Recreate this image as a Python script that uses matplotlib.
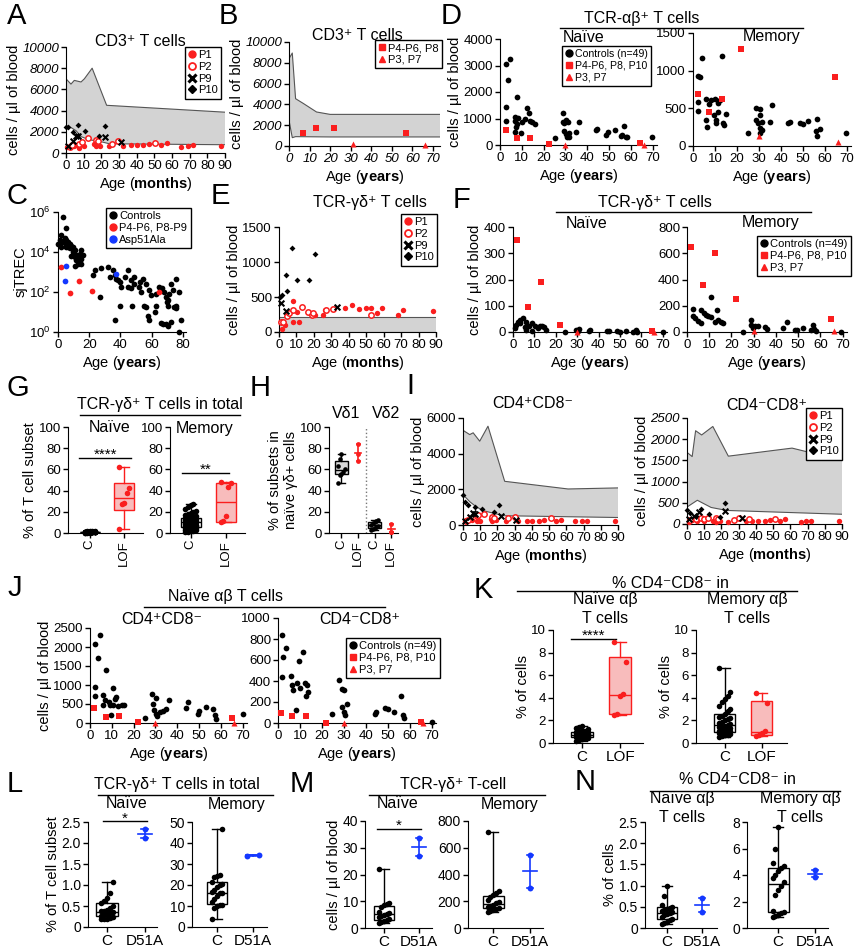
import matplotlib.pyplot as plt
import numpy as np
from matplotlib.lines import Line2D
from matplotlib.ticker import NullLocator

plt.rcParams['font.family'] = ['Liberation Sans', 'DejaVu Sans']
plt.rcParams['mathtext.fontset'] = 'custom'
plt.rcParams['mathtext.rm'] = 'Liberation Sans'
plt.rcParams['mathtext.it'] = 'Liberation Sans:italic'
plt.rcParams['mathtext.bf'] = 'Liberation Sans:bold'

RED = '#fa1e1e'
BLUE = '#1438ff'
PINK = '#f8bcbc'
BAND = '#d3d3d3'
EDGE = '#555555'

# ---------------- data ----------------
# A: CD3+ T cells (months)
A_up_x = [0, 2.8, 4.7, 8.5, 10.4, 14.8, 23, 90]
A_up_y = [7000, 6500, 6850, 6700, 7000, 8000, 4500, 3850]
A_lo_x = [0, 2.8, 5.7, 8.5, 13, 19, 24.6, 90]
A_lo_y = [2500, 2400, 2100, 1550, 1250, 1100, 870, 780]
A_P1_x = [0.6, 2.3, 4.7, 6, 7.6, 10.4, 16, 16.7, 19, 24.6, 32, 37, 40, 43.6, 47, 54, 57, 65, 69, 72, 88]
A_P1_y = [560, 620, 620, 720, 470, 620, 870, 620, 690, 620, 620, 720, 780, 780, 850, 720, 940, 560, 690, 720, 690]
A_P2_x = [2.5, 3.4, 7.6, 9.1, 12.3, 17, 18, 26, 29.7, 50.6]
A_P2_y = [560, 720, 870, 1030, 1400, 1190, 1090, 870, 1090, 940]
A_P9_x = [1, 3.8, 5.7, 7, 22.3, 31]
A_P9_y = [620, 1090, 1620, 1560, 1500, 1000]
A_P10_x = [0, 1, 3.8, 6.6, 11, 18.6, 21.8]
A_P10_y = [2440, 2440, 1970, 2600, 2120, 1560, 2560]

# B: CD3+ T cells (years)
B_up_x = [0, 1.6, 3.2, 6.9, 13.4, 20, 73.5]
B_up_y = [8400, 8940, 4550, 4100, 3270, 3040, 3040]
B_lo_x = [0, 1.6, 3.2, 20, 73.5]
B_lo_y = [2470, 800, 900, 870, 870]
B_sq_x = [7, 13, 22, 57]
B_sq_y = [1250, 1760, 1730, 1250]
B_tri_x = [31, 66]
B_tri_y = [160, 60]

# C: sjTREC
C_ctrl_x = [3.2, 5.3, 2.1, 4.3, 0, 1.1, 2.1, 3.2, 4.3, 5.3, 6.4, 7.5, 8.5, 9.6, 5.3, 2.1, 6.4, 7.5, 9.6,
            10.7, 11.7, 12.8, 13.9, 14.9, 13.9, 11.7, 10.7, 12.8, 10.7, 8.5, 14.9, 16, 14.9,
            22.4, 23.5, 27.7, 32, 35.2, 36.2, 37.3, 38.4, 39.5, 40.5, 44.8, 42.7, 46.9, 49, 44.8, 46.9,
            49, 52.3, 54.4, 51.9, 53.3, 56.5, 58.6, 59.7, 62.9, 65, 66.7, 68.2, 69.3, 70.4, 71.4, 72.5,
            73.6, 75.7, 77.2, 26.7, 33, 36.2, 40, 47.6, 55.4, 56.5, 57.6, 58.6, 62.5, 62.3, 66, 67, 69.3,
            70.4, 69.6, 70.4, 72.5, 74.6, 75.7, 75.3, 77.8, 78.9]
C_ctrl_y = [5.6e5, 1.6e5, 6.8e4, 5.2e4, 2.6e4, 3.8e4, 3.2e4, 3.5e4, 2.8e4, 3.8e4, 3.2e4, 2.6e4, 2.1e4,
            1.8e4, 1.8e4, 1.8e4, 1.8e4, 1.5e4, 1.0e4, 1.2e4, 6.8e3, 5.6e3, 8.3e3, 1.2e4, 4.7e3, 3.8e3,
            2.1e3, 2.6e3, 5.6e3, 6.0e3, 4.7e3, 6.8e3, 2.6e3,
            680, 1200, 1500, 1800, 1200, 680, 470, 380, 320, 180, 1200, 560, 380, 560, 180, 150,
            260, 320, 470, 180, 100, 260, 120, 68, 83, 180, 150, 100, 56, 38, 83, 260,
            120, 470, 100, 56, 560, 3.8, 20, 20, 20, 18, 6.3, 3.8, 20, 10, 2.8, 2.6, 2.4,
            2.0, 32, 20, 3.2, 18, 20, 15, 1.0, 3.8]
C_red_x = [2.1, 7.5, 13.2, 22, 64.6]
C_red_y = [1800, 89, 350, 107, 100]
C_blue_x = [4.9, 4.3, 36.9]
C_blue_y = [2100, 350, 830]

# D: TCR-ab naive / memory (years)
DN_ctrl_x = [2.7, 4.5, 3.8, 7.6, 2.7, 2.7, 6.8, 6.8, 7.6, 7.3, 8.3, 9.8, 6.8, 11.4, 12.4, 13.3, 13.9,
             14.8, 15.9, 10.3, 25, 28.8, 28.8, 29.5, 30.3, 31, 29.5, 30.3, 30.6, 31.8, 31.8, 34.8, 36,
             43.9, 44.7, 48.8, 49.7, 52.7, 56, 56.8, 57.6, 58.3, 55.3, 69.7]
DN_ctrl_y = [3070, 3250, 2440, 1830, 1430, 920, 1070, 920, 790, 670, 1010, 440, 500, 970, 1390, 1220,
             920, 850, 790, 880, 250, 1200, 880, 820, 950, 880, 530, 400, 290, 290, 440, 500, 850,
             570, 590, 380, 480, 570, 380, 720, 320, 290, 340, 290]
DN_sq_x = [2.7, 7.6, 13.6, 22.4, 64.4]
DN_sq_y = [570, 250, 250, 30, 90]
DN_tri_x = [30, 66]
DN_tri_y = [0, 0]
DM_ctrl_x = [4.1, 13.2, 2.3, 3.3, 2.3, 2.3, 6.1, 7.2, 8.4, 10.2, 11.4, 12.2, 9.4, 10.4, 10.4, 11.6,
             13.7, 14, 15.2, 6.1, 6.4, 25, 28.9, 30.4, 30.4, 28.9, 29.7, 30.4, 30.7, 31.6, 31.5, 35,
             35.8, 43.4, 44.1, 48.7, 50, 52.5, 56.6, 55.9, 56.6, 57.8, 69.7]
DM_ctrl_y = [1166, 1200, 930, 920, 590, 460, 630, 556, 610, 620, 565, 610, 410, 350, 310, 455, 300,
             275, 420, 350, 255, 175, 500, 485, 410, 343, 300, 245, 175, 218, 320, 320, 550, 300,
             320, 307, 290, 334, 365, 200, 133, 230, 175]
DM_sq_x = [2.3, 7.2, 13.2, 22, 64.7]
DM_sq_y = [685, 455, 630, 1285, 910]
DM_tri_x = [30, 66]
DM_tri_y = [130, 55]

# E: TCR-gd (months)
E_up_x = [0, 90]
E_up_y = [210, 210]
E_lo_x = [0, 90]
E_lo_y = [0, 0]
E_P1_x = [2, 3.3, 4.3, 7.8, 8.1, 10.4, 11.4, 20.7, 25.5, 26.5, 38, 42, 45.8, 49.7, 52.6, 56, 59, 68, 71, 88]
E_P1_y = [42, 103, 245, 142, 443, 292, 150, 245, 245, 316, 340, 387, 330, 340, 340, 269, 340, 245, 316, 300]
E_P2_x = [1, 2.3, 4.6, 5.6, 7.8, 13, 16.8, 18.8, 19.4, 27, 31, 53]
E_P2_y = [143, 150, 231, 269, 316, 363, 292, 245, 269, 316, 326, 245]
E_P9_x = [1, 4, 33]
E_P9_y = [420, 300, 355]
E_P10_x = [0.5, 1.5, 4, 4.6, 7.2, 10.4, 17.4, 20.7]
E_P10_y = [500, 530, 810, 580, 1200, 740, 740, 1120]

# F: TCR-gd naive / memory (years)
FN_ctrl_x = [0.9, 1.6, 2.3, 3.4, 4.7, 3.1, 5.9, 5.4, 7.4, 9, 10.5, 11.6, 12.4, 13.6, 14.7, 9, 6.2,
             15.5, 24.4, 29.5, 31, 30.3, 35.4, 36, 43.8, 44.7, 48.4, 50, 52.8, 55.9, 57.4, 58.2, 69.9]
FN_ctrl_y = [15, 28, 37, 45, 53, 34, 40, 19, 24, 34, 21, 15, 24, 21, 19, 3, 6, 9, 0, 6, 11, 3, 3, 6,
             5, 3, 3, 0, 3, 0, 6, 0, 0]
FN_sq_x = [2, 7, 13, 22, 65]
FN_sq_y = [350, 95, 192, 28, 3]
FN_tri_x = [30, 66]
FN_tri_y = [0, 0]
FM_ctrl_x = [2.5, 2.5, 3.5, 5, 6.5, 6.5, 7.6, 8.5, 9.6, 11, 12.5, 13.3, 14, 15.5, 16, 11, 25.2, 29,
             29, 29.7, 30.5, 32, 35, 35.8, 43.3, 44.8, 48.5, 49.3, 52.3, 56, 56.8, 57, 58, 69.5]
FM_ctrl_y = [175, 122, 105, 87, 67, 167, 142, 130, 122, 112, 80, 167, 92, 80, 67, 265, 0, 92, 55,
             30, 42, 47, 37, 22, 30, 80, 12, 17, 30, 12, 55, 22, 5, 0]
FM_sq_x = [2, 7, 12.5, 22, 65]
FM_sq_y = [645, 355, 605, 255, 100]
FM_tri_x = [30, 66]
FM_tri_y = [10, 5]

# G / H: box data
G_NAIVE_C = [0.2, 0.3, 0.4, 0.5, 0.5, 0.6, 0.6, 0.7, 0.7, 0.8, 0.8, 0.9, 0.9, 1.0, 1.0, 1.1, 1.1, 1.2,
             1.2, 1.3, 1.4, 1.5, 1.6, 1.8, 2.0, 0.4, 0.6, 0.8, 1.0, 0.9, 0.7, 1.1, 1.3, 0.5, 0.6, 0.8,
             1.2, 1.0, 0.9, 0.7]
G_NAIVE_LOF = [4, 27, 28, 38, 42, 62]
G_MEM_C = [0.5, 1, 1.5, 2, 2.5, 3, 3.5, 4, 4.5, 5, 5, 5.5, 6, 6, 6.5, 7, 7, 7.5, 8, 8, 8.5, 9, 9, 9.5,
           10, 10, 10.5, 11, 11, 11.5, 12, 12.5, 13, 13, 13.5, 14, 14, 15, 15.5, 16, 17, 18, 19, 20,
           21, 23, 25, 26, 27]
G_MEM_LOF = [10, 11, 16, 43, 47, 48]
H_VD1_C = [47, 55, 56, 58, 60, 63, 70, 75]
H_VD1_LOF = [68, 75, 84]
H_VD2_C = [3, 4, 5, 6, 7, 8, 9, 10, 11, 12]
H_VD2_LOF = [0.5, 1, 8.5]

# I: CD4+CD8- / CD4-CD8+ (months)
IL_up_x = [0, 3.9, 5.9, 9.7, 14.5, 24.2, 61, 90]
IL_up_y = [5310, 5070, 5170, 4700, 5540, 2450, 2020, 2080]
IL_lo_x = [0, 4, 8, 12, 18, 24, 90]
IL_lo_y = [1700, 1300, 1000, 800, 650, 520, 420]
IL_P1_x = [1, 2, 5, 8, 10, 16, 17, 19, 25, 32, 37, 40, 44, 47, 54, 57, 65, 69, 72, 88]
IL_P1_y = [200, 300, 300, 250, 200, 350, 250, 300, 200, 200, 250, 250, 250, 300, 250, 300, 200, 250, 250, 250]
IL_P2_x = [2, 3, 8, 9, 12, 17, 18, 26, 30, 51]
IL_P2_y = [250, 300, 500, 550, 600, 450, 400, 400, 450, 400]
IL_P9_x = [1, 4, 6, 7, 22, 31]
IL_P9_y = [250, 450, 700, 600, 500, 300]
IL_P10_x = [0, 1, 3, 7, 11, 18, 21]
IL_P10_y = [1700, 1300, 1100, 1000, 900, 750, 1100]
IR_up_x = [0, 3, 5, 8.5, 15, 24, 61, 90]
IR_up_y = [1690, 1590, 2200, 2100, 2300, 1600, 1790, 1500]
IR_lo_x = [0, 6, 14, 23, 90]
IR_lo_y = [400, 560, 390, 320, 230]
IR_P1_x = [1, 3, 6, 10, 15, 17, 19, 24, 34, 38, 41, 45, 48, 54, 57, 66, 69, 72, 88]
IR_P1_y = [50, 100, 80, 60, 70, 50, 70, 40, 60, 60, 60, 60, 100, 60, 110, 40, 60, 60, 80]
IR_P2_x = [2, 5, 8, 10, 12, 17, 18, 27, 30, 36, 51]
IR_P2_y = [100, 120, 140, 120, 130, 140, 120, 100, 140, 120, 110]
IR_P9_x = [1, 4, 7, 22, 32]
IR_P9_y = [110, 200, 280, 300, 130]
IR_P10_x = [0, 2, 5, 8, 13, 19, 22]
IR_P10_y = [320, 250, 200, 360, 230, 160, 500]

# J: naive ab CD4+CD8- / CD4-CD8+ (years)
JL_ctrl_x = [4.6, 2.4, 3.5, 7.4, 2.4, 10.4, 2.4, 6, 7, 12, 11.5, 8.5, 28.6, 30.3, 36, 45, 6.1, 9.1,
             10.7, 12.9, 14.5, 15.5, 9.6, 25.1, 28.9, 29.2, 30.1, 30.9, 31.9, 33.5, 35, 44.2, 49.5,
             50.2, 53.3, 56.3, 57.5, 57.8, 70]
JL_ctrl_y = [2320, 2090, 1720, 1400, 960, 930, 710, 725, 610, 690, 630, 560, 770, 670, 610, 550, 485,
             463, 478, 442, 478, 463, 213, 142, 500, 342, 249, 178, 285, 320, 357, 392, 249, 320,
             428, 357, 213, 107, 249]
JL_sq_x = [2, 7.3, 13.2, 22, 65]
JL_sq_y = [392, 170, 178, 14, 128]
JL_tri_x = [30, 66]
JL_tri_y = [0, 0]
JR_ctrl_x = [1.7, 3.7, 2.5, 1.7, 5.8, 6.6, 8.6, 7, 9.6, 11.6, 10, 12.5, 13.3, 13.6, 12.8, 28, 29, 30,
             56, 8.4, 24.6, 29.2, 30, 30.7, 31.5, 44.5, 44, 48.8, 50, 53, 56.8, 57.6, 70]
JR_ctrl_y = [840, 717, 625, 440, 446, 363, 378, 317, 594, 680, 332, 378, 363, 292, 255, 409, 323,
             317, 255, 123, 86, 154, 108, 77, 185, 108, 83, 139, 129, 108, 77, 46, 6]
JR_sq_x = [1.5, 6.6, 12.8, 22, 65]
JR_sq_y = [98, 68, 62, 0, 6]
JR_tri_x = [30, 66]
JR_tri_y = [0, 0]

# K: % CD4-CD8- in naive / memory ab T cells
K_NAIVE_C = [0.2, 0.3, 0.35, 0.4, 0.45, 0.5, 0.5, 0.55, 0.6, 0.6, 0.65, 0.65, 0.7, 0.7, 0.7, 0.75,
             0.75, 0.8, 0.8, 0.8, 0.85, 0.85, 0.9, 0.9, 0.95, 1.0, 1.0, 1.05, 1.1, 1.2, 1.3, 1.4, 1.5]
K_NAIVE_LOF = [2.5, 2.6, 4.2, 4.3, 7.2, 8.9]
K_MEM_C = [0.5, 0.6, 0.7, 0.75, 0.8, 0.85, 0.9, 0.95, 1.0, 1.05, 1.1, 1.15, 1.2, 1.3, 1.35, 1.4, 1.45,
           1.5, 1.6, 1.7, 1.8, 1.9, 2.0, 2.1, 2.2, 2.3, 2.4, 2.6, 2.8, 3.0, 3.3, 3.6, 3.9, 4.2, 4.5, 6.6]
K_MEM_LOF = [0.6, 0.7, 0.9, 1.1, 3.5, 4.4]

# L / M / N: D51A
L_NAIVE_C = [0.18, 0.19, 0.2, 0.22, 0.25, 0.27, 0.3, 0.32, 0.33, 0.35, 0.37, 0.38, 0.4, 0.45, 0.5,
             0.58, 0.62, 0.7, 0.8, 1.08]
L_NAIVE_D51A = [2.12, 2.33]
L_MEM_C = [3.9, 9, 10, 10.5, 10.6, 12, 13.5, 15, 16, 16.3, 16.5, 17.5, 19, 20, 20.5, 21.5, 24, 24.5,
           25, 46.5]
L_MEM_D51A = [34.0, 34.5]
M_NAIVE_C = [1.9, 2.2, 2.5, 3, 3.3, 4, 4.5, 5, 5.3, 5.5, 6, 8, 8.5, 9, 9.5, 22]
M_NAIVE_D51A = [27, 33.5]
M_MEM_C = [120, 130, 140, 145, 150, 155, 165, 175, 185, 195, 210, 230, 245, 265, 280, 720]
M_MEM_D51A = [300, 545]
N_NAIVE_C = [0.1, 0.12, 0.15, 0.2, 0.22, 0.25, 0.3, 0.33, 0.35, 0.38, 0.4, 0.42, 0.45, 0.48, 0.5,
             0.55, 0.75, 0.98]
N_NAIVE_D51A = [0.37, 0.7]
N_MEM_C = [0.85, 0.9, 1.0, 1.1, 1.2, 1.3, 2.5, 2.9, 3.2, 3.5, 3.8, 4.0, 4.3, 4.5, 4.7, 4.9, 6.0, 7.6]
N_MEM_D51A = [3.85, 4.35]

# ---------------- helpers ----------------
W, H = 857, 951
fig = plt.figure(figsize=(W / 100, H / 100), dpi=100)
YLAB = 10.5


def add_ax(l, t, r, b, size=9.5):
    ax = fig.add_axes([l / W, 1 - b / H, (r - l) / W, (b - t) / H])
    for s in ('top', 'right'):
        ax.spines[s].set_visible(False)
    ax.tick_params(direction='out', length=3.5, width=1, labelsize=size, pad=1.5)
    ax.patch.set_alpha(0)
    return ax


def ftext(x, y, s, size=11, **kw):
    fig.text(x / W, 1 - y / H, s, ha='center', va='center', fontsize=size, **kw)


def hline(x0, x1, y):
    fig.add_artist(Line2D([x0 / W, x1 / W], [1 - y / H, 1 - y / H], color='k', lw=1))


SCAT = {
    'ctrl': dict(marker='o', color='k', s=17, linewidths=0),
    'P1': dict(marker='o', color=RED, s=15, linewidths=0),
    'P2': dict(marker='o', facecolors='white', edgecolors=RED, s=15, linewidths=1.1),
    'P9': dict(marker='x', color='k', s=17, linewidths=1.5),
    'P10': dict(marker='D', color='k', s=9, linewidths=0),
    'sq': dict(marker='s', color=RED, s=19, linewidths=0),
    'tri': dict(marker='^', color=RED, s=19, linewidths=0),
    'red': dict(marker='o', color=RED, s=17, linewidths=0),
    'blue': dict(marker='o', color=BLUE, s=17, linewidths=0),
}
LEG = {
    'ctrl': dict(marker='o', mfc='k', mec='k', ms=5),
    'P1': dict(marker='o', mfc=RED, mec=RED, ms=5),
    'P2': dict(marker='o', mfc='white', mec=RED, mew=1.3, ms=5),
    'P9': dict(marker='x', mec='k', mew=2.2, ms=5.5),
    'P10': dict(marker='D', mfc='k', mec='k', ms=4),
    'sq': dict(marker='s', mfc=RED, mec=RED, ms=5),
    'tri': dict(marker='^', mfc=RED, mec=RED, ms=5),
    'red': dict(marker='o', mfc=RED, mec=RED, ms=5),
    'blue': dict(marker='o', mfc=BLUE, mec=BLUE, ms=5),
}


def pts(ax, x, y, kind):
    ax.scatter(x, y, clip_on=False, zorder=3, **SCAT[kind])


def legend(ax, entries, x, y, size=8):
    handles = [Line2D([], [], ls='none', **LEG[k]) for k, _ in entries]
    labels = [t for _, t in entries]
    leg = ax.legend(handles, labels, loc='upper left', bbox_to_anchor=(x / W, 1 - y / H),
                    bbox_transform=fig.transFigure, fontsize=size, frameon=True, fancybox=False,
                    edgecolor='k', framealpha=1, handlelength=0.7, handletextpad=0.2,
                    borderpad=0.3, labelspacing=0.15, borderaxespad=0)
    leg.get_frame().set_linewidth(1)


def band(ax, xu, yu, xl, yl):
    ax.fill(np.r_[xu, xl[::-1]], np.r_[yu, yl[::-1]], color=BAND, lw=0, zorder=1)
    ax.plot(xu, yu, color=EDGE, lw=0.8, zorder=2)
    ax.plot(xl, yl, color=EDGE, lw=0.8, zorder=2)


def setup(ax, xmax, xt, ymax, yt, unit=None, ylabel=None, it_x=False, it_y=False):
    ax.set_xlim(0, xmax)
    ax.set_ylim(0, ymax)
    ax.set_xticks(xt)
    ax.set_xticklabels([str(v) for v in xt], fontstyle='italic' if it_x else 'normal')
    ax.set_yticks(yt)
    ax.set_yticklabels([str(v) for v in yt], fontstyle='italic' if it_y else 'normal')
    if unit:
        ax.set_xlabel(r'Age ($\mathbf{%s}$)' % unit, fontsize=YLAB, labelpad=2)
    if ylabel:
        ax.set_ylabel(ylabel, fontsize=YLAB, labelpad=1)


def jitter(n, w):
    k = np.arange(n)
    return ((k % 5) - 2) * w * 0.13


def box(ax, pos, vals, col, fill, w=0.57, s=16):
    q1, med, q3 = np.percentile(vals, [25, 50, 75], method='weibull')
    st = [dict(med=med, q1=q1, q3=q3, whislo=min(vals), whishi=max(vals))]
    lp = dict(color=col, lw=1)
    ax.bxp(st, positions=[pos], widths=w, capwidths=w * 0.5, showfliers=False, patch_artist=True,
           boxprops=dict(facecolor=fill, edgecolor=col, lw=1), medianprops=lp, whiskerprops=lp,
           capprops=lp, manage_ticks=False)
    ax.scatter(pos + jitter(len(vals), w), vals, color=col, s=s, zorder=3, clip_on=False, linewidths=0)


def mean_range(ax, pos, vals, col, s=18):
    m = np.mean(vals)
    lo, hi = min(vals), max(vals)
    ax.plot([pos, pos], [lo, hi], color=col, lw=1.2)
    ax.plot([pos - 0.09, pos + 0.09], [lo, lo], color=col, lw=1.2)
    ax.plot([pos - 0.09, pos + 0.09], [hi, hi], color=col, lw=1.2)
    ax.plot([pos - 0.19, pos + 0.19], [m, m], color=col, lw=1.2)
    y0, y1 = ax.get_ylim()
    if hi - lo < 0.03 * (y1 - y0):
        xs = [pos - 0.17, pos + 0.17]
    else:
        xs = [pos] * len(vals)
    ax.scatter(xs, vals, color=col, s=s, zorder=3, linewidths=0, clip_on=False)


def sig(ax, x0, x1, y, txt):
    ax.plot([x0, x1], [y, y], color='k', lw=1, clip_on=False)
    ax.annotate(txt, ((x0 + x1) / 2, y), xytext=(0, -3), textcoords='offset points',
                ha='center', va='bottom', fontsize=11, annotation_clip=False)


def cat_axis(ax, labels, ymax, yt, ylabels=None, ylabel=None, rot=0, xsize=9.5):
    ax.set_ylim(0, ymax)
    ax.set_yticks(yt)
    if ylabels:
        ax.set_yticklabels(ylabels)
    ax.set_xticks(range(len(labels)))
    ax.set_xticklabels(labels, rotation=rot, fontsize=xsize)
    if ylabel:
        ax.set_ylabel(ylabel, fontsize=YLAB, labelpad=1)


# ---------------- A ----------------
ax = add_ax(66, 47, 225, 153)
band(ax, A_up_x, A_up_y, A_lo_x, A_lo_y)
pts(ax, A_P1_x, A_P1_y, 'P1')
pts(ax, A_P2_x, A_P2_y, 'P2')
pts(ax, A_P9_x, A_P9_y, 'P9')
pts(ax, A_P10_x, A_P10_y, 'P10')
setup(ax, 90, range(0, 91, 10), 10000, range(0, 10001, 2000), 'months', 'cells / µl of blood', it_y=True)
legend(ax, [('P1', 'P1'), ('P2', 'P2'), ('P9', 'P9'), ('P10', 'P10')], 185, 47)
ftext(140, 42, 'CD3⁺ T cells', 11.5)

# ---------------- B ----------------
ax = add_ax(289, 42, 440, 146)
band(ax, B_up_x, B_up_y, B_lo_x, B_lo_y)
pts(ax, B_sq_x, B_sq_y, 'sq')
pts(ax, B_tri_x, B_tri_y, 'tri')
setup(ax, 73.5, range(0, 71, 10), 10000, range(0, 10001, 2000), 'years', 'cells / µl of blood',
      it_x=True, it_y=True)
legend(ax, [('sq', 'P4-P6, P8'), ('tri', 'P3, P7')], 375, 40)
ftext(357, 35, 'CD3⁺ T cells', 11.5)

# ---------------- D ----------------
ax = add_ax(500, 39, 657, 145)
pts(ax, DN_ctrl_x, DN_ctrl_y, 'ctrl')
pts(ax, DN_sq_x, DN_sq_y, 'sq')
pts(ax, DN_tri_x, DN_tri_y, 'tri')
setup(ax, 72, range(0, 71, 10), 4000, range(0, 4001, 1000), 'years', 'cells / µl of blood')
legend(ax, [('ctrl', 'Controls (n=49)'), ('sq', 'P4-P6, P8, P10'), ('tri', 'P3, P7')], 562, 46, size=7.6)
ax = add_ax(693, 33, 851, 146)
pts(ax, DM_ctrl_x, DM_ctrl_y, 'ctrl')
pts(ax, DM_sq_x, DM_sq_y, 'sq')
pts(ax, DM_tri_x, DM_tri_y, 'tri')
setup(ax, 72, range(0, 71, 10), 1500, range(0, 1501, 500), 'years')
ftext(642, 19, 'TCR-αβ⁺ T cells', 11.5)
hline(560, 803, 28)
ftext(584, 37, 'Naïve', 11.5)
ftext(772, 37, 'Memory', 11.5)

# ---------------- C ----------------
ax = add_ax(58, 212, 186, 332)
ax.set_yscale('log')
pts(ax, C_ctrl_x, C_ctrl_y, 'ctrl')
pts(ax, C_red_x, C_red_y, 'red')
pts(ax, C_blue_x, C_blue_y, 'blue')
ax.set_ylim(1, 1e6)
ax.set_xlim(0, 82)
ax.set_xticks(range(0, 81, 20))
ax.yaxis.set_minor_locator(NullLocator())
ax.set_xlabel(r'Age ($\mathbf{years}$)', fontsize=YLAB, labelpad=2)
ax.set_ylabel('sjTREC', fontsize=YLAB, labelpad=1)
legend(ax, [('ctrl', 'Controls'), ('red', 'P4-P6, P8-P9'), ('blue', 'Asp51Ala')], 106, 208)

# ---------------- E ----------------
ax = add_ax(279, 227, 436, 332)
band(ax, E_up_x, E_up_y, E_lo_x, E_lo_y)
pts(ax, E_P1_x, E_P1_y, 'P1')
pts(ax, E_P2_x, E_P2_y, 'P2')
pts(ax, E_P9_x, E_P9_y, 'P9')
pts(ax, E_P10_x, E_P10_y, 'P10')
setup(ax, 90, range(0, 91, 10), 1500, range(0, 1501, 500), 'months', 'cells / µl of blood')
legend(ax, [('P1', 'P1'), ('P2', 'P2'), ('P9', 'P9'), ('P10', 'P10')], 401, 214)
ftext(370, 203, 'TCR-γδ⁺ T cells', 11.5)

# ---------------- F ----------------
ax = add_ax(513, 227, 667, 332)
pts(ax, FN_ctrl_x, FN_ctrl_y, 'ctrl')
pts(ax, FN_sq_x, FN_sq_y, 'sq')
pts(ax, FN_tri_x, FN_tri_y, 'tri')
setup(ax, 72, range(0, 71, 10), 400, range(0, 401, 100), 'years', 'cells / µl of blood')
ax = add_ax(687, 227, 847, 332)
pts(ax, FM_ctrl_x, FM_ctrl_y, 'ctrl')
pts(ax, FM_sq_x, FM_sq_y, 'sq')
pts(ax, FM_tri_x, FM_tri_y, 'tri')
setup(ax, 72, range(0, 71, 10), 800, range(0, 801, 200), 'years')
legend(ax, [('ctrl', 'Controls (n=49)'), ('sq', 'P4-P6, P8, P10'), ('tri', 'P3, P7')], 757, 236)
ftext(655, 202, 'TCR-γδ⁺ T cells', 11.5)
hline(556, 811, 212)
ftext(587, 223, 'Naïve', 11.5)
ftext(771, 223, 'Memory', 11.5)

# ---------------- G ----------------
ax = add_ax(68, 427, 143, 533)
box(ax, 0, G_NAIVE_C, 'k', 'white')
box(ax, 1, G_NAIVE_LOF, RED, PINK)
cat_axis(ax, ['C', 'LOF'], 100, range(0, 101, 20), ylabel='% of T cell subset', rot=90)
ax.set_xlim(-0.63, 1.54)
sig(ax, -0.3, 1.2, 71, '****')
ax = add_ax(170, 427, 245, 533)
box(ax, 0, G_MEM_C, 'k', 'white')
box(ax, 1, G_MEM_LOF, RED, PINK)
cat_axis(ax, ['C', 'LOF'], 100, range(0, 101, 20), rot=90)
ax.set_xlim(-0.59, 1.55)
sig(ax, -0.25, 1.1, 57, '**')
ftext(160, 404, 'TCR-γδ⁺ T cells in total', 11.5)
hline(80, 240, 415)
ftext(110, 428, 'Naïve', 11.5)
ftext(205, 428, 'Memory', 11.5)

# ---------------- H ----------------
ax = add_ax(329, 427, 398, 533)
box(ax, 0, H_VD1_C, 'k', '#d9d9d9', w=0.8, s=11)
mean_range(ax, 1, H_VD1_LOF, RED, s=12)
box(ax, 2, H_VD2_C, 'k', '#d9d9d9', w=0.8, s=11)
cat_axis(ax, ['C', 'LOF', 'C', 'LOF'], 100, range(0, 101, 20),
         ylabel='% of subsets in\nnaïve γδ+ cells', rot=90)
mean_range(ax, 3, H_VD2_LOF, RED, s=12)
ax.set_xlim(-0.75, 3.4)
ax.plot([1.5, 1.5], [0, 100], color='#777777', ls=':', lw=1)
ftext(346, 413, 'Vδ1', 11.5)
ftext(386, 413, 'Vδ2', 11.5)

# ---------------- I ----------------
ax = add_ax(463, 418, 618, 525)
band(ax, IL_up_x, IL_up_y, IL_lo_x, IL_lo_y)
pts(ax, IL_P1_x, IL_P1_y, 'P1')
pts(ax, IL_P2_x, IL_P2_y, 'P2')
pts(ax, IL_P9_x, IL_P9_y, 'P9')
pts(ax, IL_P10_x, IL_P10_y, 'P10')
setup(ax, 90, range(0, 91, 10), 6000, range(0, 6001, 2000), 'months', 'cells / µl of blood')
ax = add_ax(687, 418, 842, 524)
band(ax, IR_up_x, IR_up_y, IR_lo_x, IR_lo_y)
pts(ax, IR_P1_x, IR_P1_y, 'P1')
pts(ax, IR_P2_x, IR_P2_y, 'P2')
pts(ax, IR_P9_x, IR_P9_y, 'P9')
pts(ax, IR_P10_x, IR_P10_y, 'P10')
setup(ax, 90, range(0, 91, 10), 2500, range(0, 2501, 500), 'months', 'cells / µl of blood', it_y=True)
legend(ax, [('P1', 'P1'), ('P2', 'P2'), ('P9', 'P9'), ('P10', 'P10')], 806, 408)
ftext(533, 403, 'CD4⁺CD8⁻', 11.5)
ftext(767, 405, 'CD4⁻CD8⁺', 11.5)

# ---------------- J ----------------
ax = add_ax(90, 628, 247, 723)
pts(ax, JL_ctrl_x, JL_ctrl_y, 'ctrl')
pts(ax, JL_sq_x, JL_sq_y, 'sq')
pts(ax, JL_tri_x, JL_tri_y, 'tri')
setup(ax, 72, range(0, 71, 10), 2500, range(0, 2501, 500), 'years', 'cells / µl of blood')
ax = add_ax(278, 618, 436, 723)
pts(ax, JR_ctrl_x, JR_ctrl_y, 'ctrl')
pts(ax, JR_sq_x, JR_sq_y, 'sq')
pts(ax, JR_tri_x, JR_tri_y, 'tri')
setup(ax, 72, range(0, 71, 10), 1000, range(0, 1001, 200), 'years')
legend(ax, [('ctrl', 'Controls (n=49)'), ('sq', 'P4-P6, P8, P10'), ('tri', 'P3, P7')], 346, 638)
ftext(225, 597, 'Naïve αβ T cells', 11.5)
hline(144, 385, 607)
ftext(162, 619, 'CD4⁺CD8⁻', 11.5)
ftext(360, 619, 'CD4⁻CD8⁺', 11.5)

# ---------------- K ----------------
ax = add_ax(553, 630, 643, 743)
box(ax, 0, K_NAIVE_C, 'k', 'white')
box(ax, 1, K_NAIVE_LOF, RED, PINK)
cat_axis(ax, ['C', 'LOF'], 10, range(0, 11, 2), ylabel='% of cells', xsize=11)
ax.set_xlim(-0.76, 1.6)
sig(ax, -0.3, 0.9, 9.2, '****')
ax = add_ax(696, 630, 787, 743)
box(ax, 0, K_MEM_C, 'k', 'white')
box(ax, 1, K_MEM_LOF, RED, PINK)
cat_axis(ax, ['C', 'LOF'], 10, range(0, 11, 2), ylabel='% of cells', xsize=11)
ax.set_xlim(-0.78, 1.68)
ftext(670, 583, '% CD4⁻CD8⁻ in', 11.5)
hline(517, 797, 591)
ftext(605, 609, 'Naïve αβ\nT cells', 11.5, linespacing=1.35)
ftext(747, 609, 'Memory αβ\nT cells', 11.5, linespacing=1.35)

# ---------------- L ----------------
ax = add_ax(88, 822, 157, 927, size=10)
ax.set_ylim(0, 2.5)
box(ax, 0, L_NAIVE_C, 'k', 'white')
mean_range(ax, 1, L_NAIVE_D51A, BLUE)
cat_axis(ax, ['C', 'D51A'], 2.5, [0, 0.5, 1, 1.5, 2, 2.5], ['0', '0.5', '1.0', '1.5', '2.0', '2.5'],
         ylabel='% of T cell subset', xsize=11)
ax.set_xlim(-0.5, 1.32)
sig(ax, -0.1, 1.05, 2.52, '*')
ax = add_ax(192, 822, 267, 927, size=10)
ax.set_ylim(0, 50)
box(ax, 0, L_MEM_C, 'k', 'white')
mean_range(ax, 1, L_MEM_D51A, BLUE)
cat_axis(ax, ['C', 'D51A'], 50, range(0, 51, 10), xsize=11)
ax.set_xlim(-0.69, 1.39)
ftext(177, 785, 'TCR-γδ⁺ T cells in total', 11.5)
hline(98, 273, 795)
ftext(127, 804, 'Naïve', 11.5)
ftext(237, 804, 'Memory', 11.5)

# ---------------- M ----------------
ax = add_ax(365, 821, 432, 928, size=10)
ax.set_ylim(0, 40)
box(ax, 0, M_NAIVE_C, 'k', 'white')
mean_range(ax, 1, M_NAIVE_D51A, BLUE)
cat_axis(ax, ['C', 'D51A'], 40, range(0, 41, 10), ylabel='cells / µl of blood', xsize=11)
ax.set_xlim(-0.54, 1.37)
sig(ax, -0.2, 1.05, 37, '*')
ax = add_ax(468, 821, 543, 928, size=10)
ax.set_ylim(0, 800)
box(ax, 0, M_MEM_C, 'k', 'white')
mean_range(ax, 1, M_MEM_D51A, BLUE)
cat_axis(ax, ['C', 'D51A'], 800, range(0, 801, 200), xsize=11)
ax.set_xlim(-0.68, 1.35)
ftext(453, 785, 'TCR-γδ⁺ T-cell', 11.5)
hline(369, 545, 795)
ftext(398, 804, 'Naïve', 11.5)
ftext(510, 804, 'Memory', 11.5)

# ---------------- N ----------------
ax = add_ax(645, 822, 717, 928, size=10)
ax.set_ylim(0, 2.5)
box(ax, 0, N_NAIVE_C, 'k', 'white')
mean_range(ax, 1, N_NAIVE_D51A, BLUE)
cat_axis(ax, ['C', 'D51A'], 2.5, [0, 0.5, 1, 1.5, 2, 2.5], ['0', '0.5', '1.0', '1.5', '2.0', '2.5'],
         ylabel='% of cells', xsize=11)
ax.set_xlim(-0.63, 1.43)
ax = add_ax(747, 822, 828, 928, size=10)
ax.set_ylim(0, 8)
box(ax, 0, N_MEM_C, 'k', 'white')
mean_range(ax, 1, N_MEM_D51A, BLUE)
cat_axis(ax, ['C', 'D51A'], 8, range(0, 9, 2), xsize=11)
ax.set_xlim(-0.84, 1.35)
ftext(737, 780, '% CD4⁻CD8⁻ in', 11.5)
hline(650, 840, 791)
ftext(682, 808, 'Naïve αβ\nT cells', 11.5, linespacing=1.35)
ftext(800, 808, 'Memory αβ\nT cells', 11.5, linespacing=1.35)

# ---------------- panel letters ----------------
for letter, x, y in [('A', 17, 16), ('B', 228, 16), ('D', 451, 16), ('C', 17, 196), ('E', 220, 196),
                     ('F', 461, 200), ('G', 18, 388), ('H', 260, 388), ('I', 410, 386),
                     ('J', 15, 588), ('K', 483, 590), ('L', 15, 784), ('M', 302, 784), ('N', 585, 782)]:
    ftext(x, y, letter, 21)

fig.savefig('out.png', dpi=100)
